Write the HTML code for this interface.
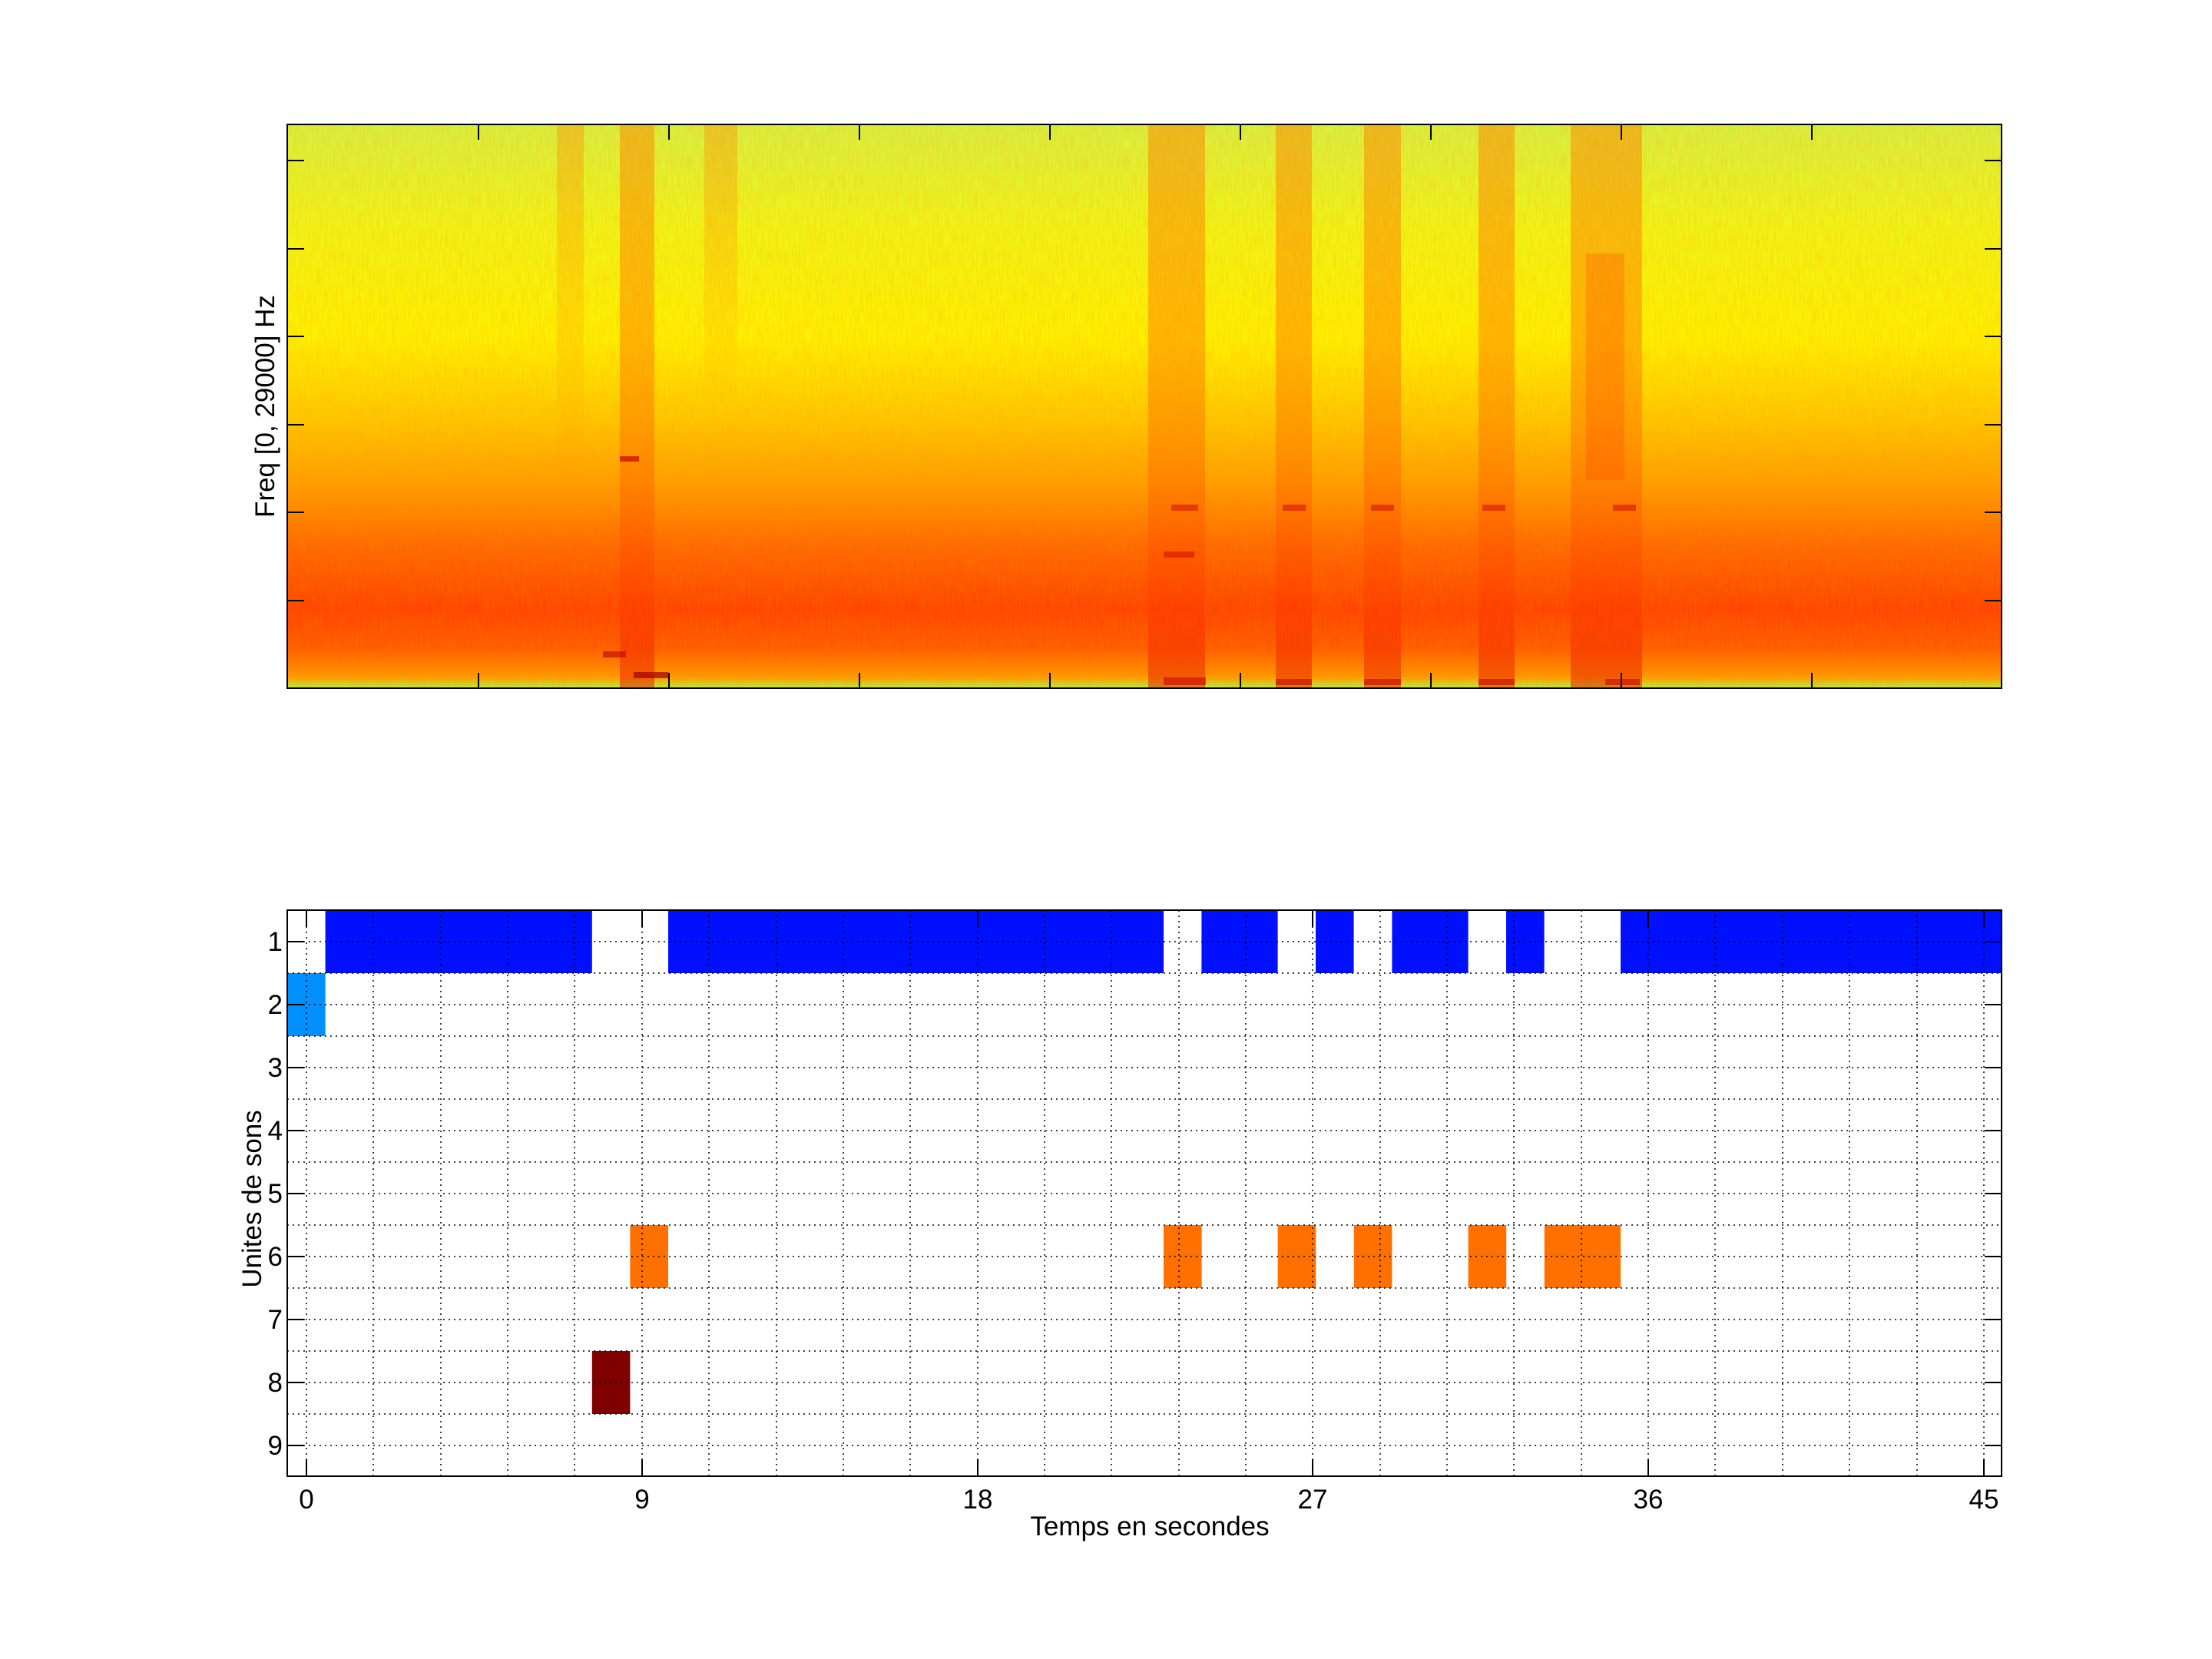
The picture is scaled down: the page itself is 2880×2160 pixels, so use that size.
<!DOCTYPE html>
<html><head><meta charset="utf-8"><style>html,body{margin:0;padding:0;background:#fff;width:2880px;height:2160px;overflow:hidden}</style></head>
<body>
<svg width="2880" height="2160" viewBox="0 0 2880 2160" xmlns="http://www.w3.org/2000/svg" font-family="Liberation Sans, sans-serif">
<defs>
<linearGradient id="bg" x1="0" y1="0" x2="0" y2="1">
<stop offset="0" stop-color="#d8f040"/>
<stop offset="0.18" stop-color="#f0f418"/>
<stop offset="0.38" stop-color="#fff000"/>
<stop offset="0.52" stop-color="#ffc800"/>
<stop offset="0.64" stop-color="#ff9c00"/>
<stop offset="0.75" stop-color="#ff6800"/>
<stop offset="0.86" stop-color="#ff4400"/>
<stop offset="0.93" stop-color="#ff5c00"/>
<stop offset="0.98" stop-color="#ff9800"/>
<stop offset="1" stop-color="#b8f040"/>
</linearGradient>
<linearGradient id="band" x1="0" y1="0" x2="0" y2="1">
<stop offset="0" stop-color="#ff7a00" stop-opacity="0.45"/>
<stop offset="0.6" stop-color="#ff6000" stop-opacity="0.4"/>
<stop offset="0.85" stop-color="#ff3000" stop-opacity="0.3"/>
<stop offset="1" stop-color="#e00000" stop-opacity="0.45"/>
</linearGradient>
<linearGradient id="bandw" x1="0" y1="0" x2="0" y2="1">
<stop offset="0" stop-color="#ff8000" stop-opacity="0.35"/>
<stop offset="0.5" stop-color="#ff8000" stop-opacity="0.2"/>
<stop offset="1" stop-color="#ff8000" stop-opacity="0"/>
</linearGradient>
<filter id="noise" x="0" y="0" width="100%" height="100%">
<feTurbulence type="fractalNoise" baseFrequency="0.45 0.04" numOctaves="2" seed="3"/>
<feColorMatrix type="matrix" values="0 0 0 0 1  0 0 0 0 0.3  0 0 0 0 0  0 0 0 -1.6 1.1"/>
</filter>
</defs>

<!-- Spectrogram -->
<rect x="374" y="162" width="2232" height="734" fill="url(#bg)"/>
<rect x="374" y="162" width="2232" height="734" filter="url(#noise)" opacity="0.25"/>
<rect x="725" y="162" width="35" height="480" fill="url(#bandw)"/>
<rect x="807" y="162" width="45" height="734" fill="url(#band)"/>
<rect x="917" y="162" width="43" height="380" fill="url(#bandw)"/>
<rect x="1495" y="162" width="74" height="734" fill="url(#band)"/>
<rect x="1661" y="162" width="47" height="734" fill="url(#band)"/>
<rect x="1776" y="162" width="48" height="734" fill="url(#band)"/>
<rect x="1925" y="162" width="47" height="734" fill="url(#band)"/>
<rect x="2045" y="162" width="93" height="734" fill="url(#band)"/>
<rect x="2065" y="330" width="50" height="295" fill="#ff3000" opacity="0.22"/>
<rect x="807" y="594" width="25" height="7" fill="#d00000" opacity="0.7"/>
<rect x="785" y="848" width="30" height="8" fill="#c00000" opacity="0.6"/>
<rect x="825" y="875" width="45" height="8" fill="#a00000" opacity="0.7"/>
<rect x="1515" y="718" width="40" height="8" fill="#d00000" opacity="0.5"/>
<rect x="1525" y="657" width="35" height="8" fill="#d00000" opacity="0.5"/>
<rect x="1670" y="657" width="30" height="8" fill="#d00000" opacity="0.5"/>
<rect x="1785" y="657" width="30" height="8" fill="#d00000" opacity="0.5"/>
<rect x="1930" y="657" width="30" height="8" fill="#d00000" opacity="0.5"/>
<rect x="2100" y="657" width="30" height="8" fill="#d00000" opacity="0.5"/>
<rect x="1515" y="882" width="55" height="10" fill="#d00000" opacity="0.6"/>
<rect x="1661" y="884" width="47" height="8" fill="#d00000" opacity="0.6"/>
<rect x="1776" y="884" width="48" height="8" fill="#d00000" opacity="0.6"/>
<rect x="1925" y="884" width="47" height="8" fill="#d00000" opacity="0.6"/>
<rect x="2090" y="884" width="45" height="8" fill="#d00000" opacity="0.6"/>
<rect x="374" y="162" width="2232" height="734" fill="none" stroke="#000" stroke-width="2"/>
<g stroke="#000" stroke-width="2">
<path d="M623 162v20M871 162v20M1119 162v20M1367 162v20M1615 162v20M1863 162v20M2111 162v20M2359 162v20"/>
<path d="M623 896v-20M871 896v-20M1119 896v-20M1367 896v-20M1615 896v-20M1863 896v-20M2111 896v-20M2359 896v-20"/>
<path d="M374 209h22M374 324h22M374 438h22M374 553h22M374 667h22M374 782h22"/>
<path d="M2606 209h-22M2606 324h-22M2606 438h-22M2606 553h-22M2606 667h-22M2606 782h-22"/>
</g>
<text transform="translate(357,529) rotate(-90)" text-anchor="middle" font-size="35">Freq [0, 29000] Hz</text>

<!-- Bottom chart blocks -->
<g>
<rect x="423.6" y="1185" width="347.2" height="82" fill="#0010ff"/>
<rect x="870" y="1185" width="645" height="82" fill="#0010ff"/>
<rect x="1564.4" y="1185" width="99.2" height="82" fill="#0010ff"/>
<rect x="1713" y="1185" width="49.6" height="82" fill="#0010ff"/>
<rect x="1812.4" y="1185" width="99.2" height="82" fill="#0010ff"/>
<rect x="1961" y="1185" width="49.6" height="82" fill="#0010ff"/>
<rect x="2110" y="1185" width="496" height="82" fill="#0010ff"/>
<rect x="374" y="1267" width="49.6" height="82" fill="#0090ff"/>
<rect x="820.4" y="1595" width="49.6" height="82" fill="#ff7000"/>
<rect x="1515" y="1595" width="49.6" height="82" fill="#ff7000"/>
<rect x="1663.6" y="1595" width="49.6" height="82" fill="#ff7000"/>
<rect x="1762.8" y="1595" width="49.6" height="82" fill="#ff7000"/>
<rect x="1911.6" y="1595" width="49.6" height="82" fill="#ff7000"/>
<rect x="2010.8" y="1595" width="99.2" height="82" fill="#ff7000"/>
<rect x="770.8" y="1759" width="49.6" height="82" fill="#800000"/>
</g>
<!-- grid -->
<g stroke="#000" stroke-width="1.5" stroke-dasharray="2 5" fill="none">
<path d="M374 1226h2232M374 1267h2232M374 1308h2232M374 1349h2232M374 1390h2232M374 1431h2232M374 1472h2232M374 1513h2232M374 1554h2232M374 1595h2232M374 1636h2232M374 1677h2232M374 1718h2232M374 1759h2232M374 1800h2232M374 1841h2232M374 1882h2232"/>
<path d="M399 1185v737M486 1185v737M574 1185v737M661 1185v737M748 1185v737M836 1185v737M923 1185v737M1011 1185v737M1098 1185v737M1185 1185v737M1273 1185v737M1360 1185v737M1447 1185v737M1535 1185v737M1622 1185v737M1709 1185v737M1797 1185v737M1884 1185v737M1971 1185v737M2059 1185v737M2146 1185v737M2233 1185v737M2321 1185v737M2408 1185v737M2496 1185v737M2583 1185v737"/>
</g>
<g stroke="#000" stroke-width="2" fill="none">
<rect x="374" y="1185" width="2232" height="737"/>
<path d="M399 1922v-22M836 1922v-22M1273 1922v-22M1709 1922v-22M2146 1922v-22M2583 1922v-22"/>
<path d="M399 1185v22M836 1185v22M1273 1185v22M1709 1185v22M2146 1185v22M2583 1185v22"/>
<path d="M374 1226h22M374 1308h22M374 1390h22M374 1472h22M374 1554h22M374 1636h22M374 1718h22M374 1800h22M374 1882h22"/>
<path d="M2606 1226h-22M2606 1308h-22M2606 1390h-22M2606 1472h-22M2606 1554h-22M2606 1636h-22M2606 1718h-22M2606 1800h-22M2606 1882h-22"/>
</g>
<g font-size="35" text-anchor="end">
<text x="368" y="1238">1</text>
<text x="368" y="1320">2</text>
<text x="368" y="1402">3</text>
<text x="368" y="1484">4</text>
<text x="368" y="1566">5</text>
<text x="368" y="1648">6</text>
<text x="368" y="1730">7</text>
<text x="368" y="1812">8</text>
<text x="368" y="1894">9</text>
</g>
<g font-size="35" text-anchor="middle">
<text x="399" y="1964">0</text>
<text x="836" y="1964">9</text>
<text x="1273" y="1964">18</text>
<text x="1709" y="1964">27</text>
<text x="2146" y="1964">36</text>
<text x="2583" y="1964">45</text>
<text x="1497" y="1999">Temps en secondes</text>
</g>
<text transform="translate(340,1561) rotate(-90)" text-anchor="middle" font-size="35">Unites de sons</text>
</svg>
</body></html>
